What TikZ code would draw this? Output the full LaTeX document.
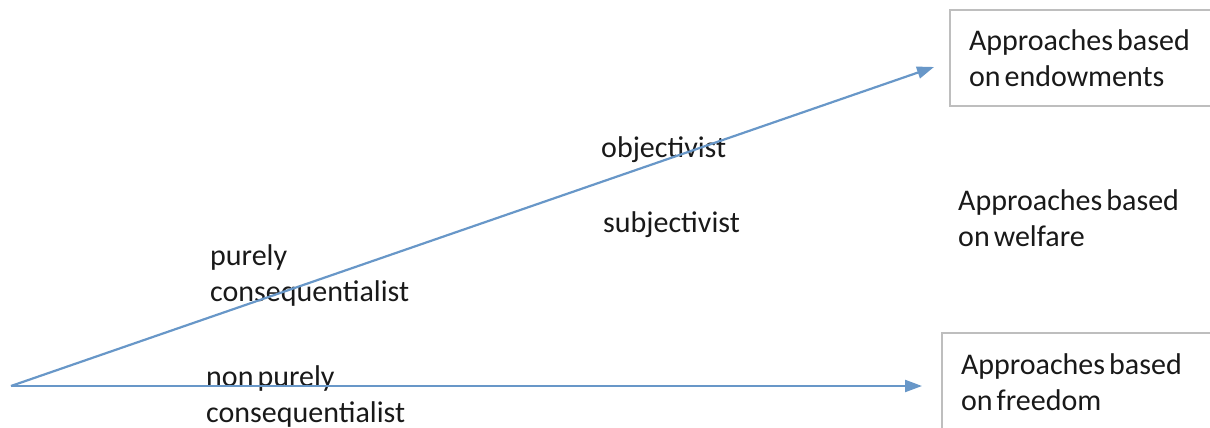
\documentclass[tikz,border=0pt]{standalone}
\usepackage{fontspec}
\setmainfont{Carlito}[WordSpace=0.6]
\usetikzlibrary{arrows.meta}
\definecolor{linkblue}{RGB}{104,151,200}
\definecolor{boxgray}{RGB}{190,190,190}
\newcommand\natspacing{\spaceskip=0pt\xspaceskip=0pt\relax}
\tikzset{
  link/.style={draw=linkblue, line width=2.2pt, -{Triangle[length=17pt,width=12pt]}},
  label/.style={font=\fontsize{30}{36}\selectfont, align=left, inner sep=0pt, anchor=base west, text=black!90},
  catbox/.style={draw=boxgray, line width=2pt, font=\fontsize{30}{36}\selectfont, align=left,
    anchor=north west, inner xsep=19pt, inner ysep=0pt, text width=250pt, text=black!90}
}
\begin{document}
\begin{tikzpicture}[x=1pt,y=-1pt]
\useasboundingbox (0,0) rectangle (1210,428);
\node[catbox, minimum height=96pt] (endow) at (949,9) {\natspacing Approaches based\\on endowments};
\node[catbox, minimum height=98pt] (freedom) at (941,332) {\natspacing Approaches based\\on freedom};
\node[label] (welfare) at (958,246) {Approaches based\\on welfare};
\node[label] (obj) at (601,157) {objectivist};
\node[label] (subj) at (603,232) {subjectivist};
\node[label] (pure) at (210,301) {purely\\consequentialist};
\node[label] (nonpure) at (206,422) {non purely\\consequentialist};
\coordinate (origin) at (11,386);
\coordinate (endA) at (934,67);
\coordinate (endB) at (922,386);
\draw[link] (origin) -- (endA);
\draw[link] (origin) -- (endB);
\end{tikzpicture}
\end{document}
